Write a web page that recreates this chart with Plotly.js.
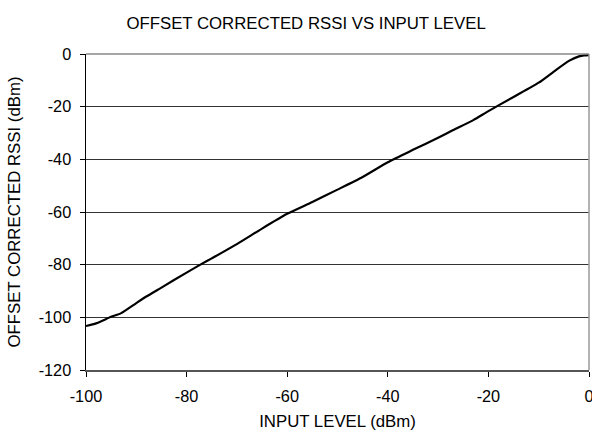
<!DOCTYPE html>
<html><head><meta charset="utf-8">
<script src="https://cdn.plot.ly/plotly-3.0.1.min.js"></script>
<style>html,body{margin:0;padding:0;background:#fff}</style>
</head><body><div id="chart" style="width:592px;height:431px"></div>
<script>
const inputLevel = [-100,-98,-95,-93,-90,-88,-85,-80,-77,-75,-70,-65,-60,-55,-50,-45,-40,-35,-30,-27,-23,-20,-15,-10,-7,-4,-2,-1,0];
const rssi = [-103.3,-102.3,-99.8,-98.4,-94.6,-92.1,-88.7,-83.0,-79.7,-77.6,-72.2,-66.3,-60.7,-56.2,-51.5,-46.7,-41.1,-36.4,-31.8,-28.9,-25.1,-21.7,-16.3,-10.9,-6.7,-2.6,-0.9,-0.5,-0.4];
const xTicks = [-100,-80,-60,-40,-20,0];
const xTickText = ['-100','-80','-60','-40','-20','0'];
const yTicks = [0,-20,-40,-60,-80,-100,-120];
const yTickText = ['0','-20','-40','-60','-80','-100','-120'];

const fam = 'Liberation Sans, Arial, sans-serif';
const tickFont = {family:fam, size:16.3, color:'#000'};
const titleFont = {family:fam, size:16.8, color:'#000'};
Plotly.newPlot('chart', [{
  x: inputLevel, y: rssi, type:'scatter', mode:'lines',
  line:{color:'#000', width:2.2, shape:'spline', smoothing:0.6}, hoverinfo:'skip'
}], {
  width:592, height:431,
  margin:{l:86, r:3, t:54, b:61},
  paper_bgcolor:'#fff', plot_bgcolor:'#fff',
  font: titleFont,
  showlegend:false,
  title:{text:'OFFSET CORRECTED RSSI VS INPUT LEVEL', font:titleFont, x:0.517, xref:'container', xanchor:'center', y:1-23/431, yref:'container', yanchor:'middle'},
  xaxis:{range:[-100,0], tickvals:xTicks, ticktext:xTickText, ticks:'outside', ticklen:5, tickcolor:'#000', ticklabelstandoff:6,
    ticklabeloverflow:'allow',
    showgrid:false, zeroline:false, showline:true, linecolor:'#555', linewidth:1.5, mirror:false,
    tickfont:tickFont, title:{text:'INPUT LEVEL (dBm)', font:titleFont, standoff:13}},
  yaxis:{range:[-120,0], tickvals:yTicks, ticktext:yTickText, ticks:'outside', ticklen:5, tickcolor:'#000', ticklabelstandoff:5,
    showgrid:true, gridcolor:'#333', gridwidth:1, zeroline:false, showline:true, linecolor:'#000', linewidth:1.5,
    tickfont:tickFont, title:{text:'OFFSET CORRECTED RSSI (dBm)', font:titleFont, standoff:14}},
  shapes:[{type:'line', xref:'paper', yref:'paper', x0:1, x1:1, y0:0, y1:1, line:{color:'#999', width:1.5}},
          {type:'line', xref:'paper', yref:'paper', x0:0, x1:1, y0:1, y1:1, line:{color:'#888', width:1.5}}]
}, {staticPlot:true});
</script></body></html>
